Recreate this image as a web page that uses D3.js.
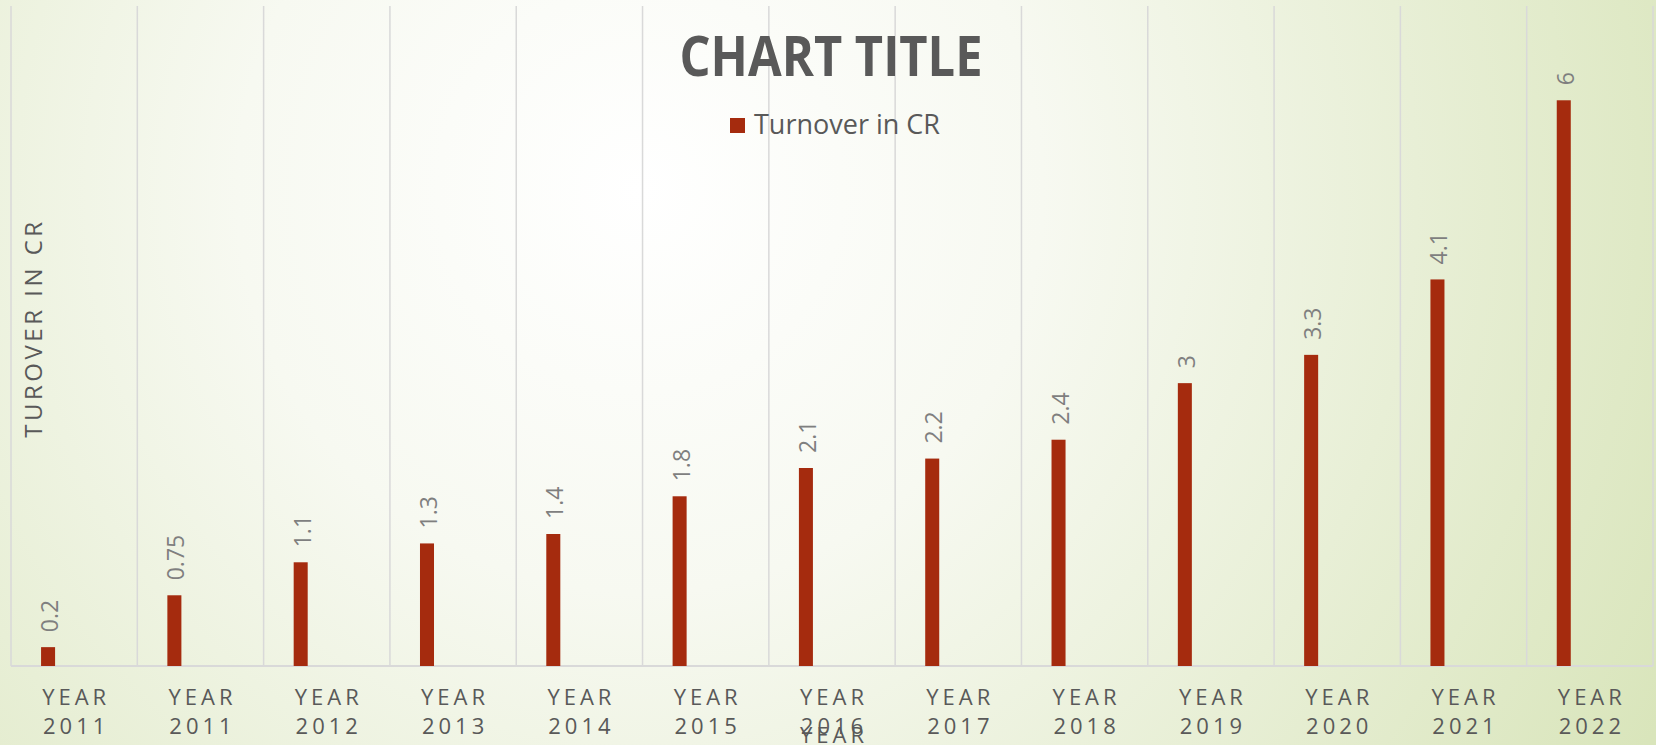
<!DOCTYPE html>
<html><head><meta charset="utf-8">
<script src="https://cdn.jsdelivr.net/npm/d3@7"></script>
<style>html,body{margin:0;padding:0;overflow:hidden;background:#fff}</style>
</head><body>
<svg id="chart" width="1656" height="745"></svg>
<script>
const categories = ["YEAR 2011","YEAR 2011","YEAR 2012","YEAR 2013","YEAR 2014","YEAR 2015","YEAR 2016","YEAR 2017","YEAR 2018","YEAR 2019","YEAR 2020","YEAR 2021","YEAR 2022"];
const turnover = [0.2, 0.75, 1.1, 1.3, 1.4, 1.8, 2.1, 2.2, 2.4, 3, 3.3, 4.1, 6];
const seriesName = "Turnover in CR";
const chartTitle = "CHART TITLE";
const xTitle = "YEAR";
const yTitle = "TUROVER IN CR";
const yMax = 7;

const W = 1656, H = 745;
const svg = d3.select("#chart");
const defs = svg.append("defs");
const grad = defs.append("radialGradient").attr("id","bg")
  .attr("gradientUnits","userSpaceOnUse").attr("cx",640).attr("cy",190).attr("r",1150);
grad.append("stop").attr("offset","0%").attr("stop-color","#ffffff");
grad.append("stop").attr("offset","35%").attr("stop-color","#f7f9f1");
grad.append("stop").attr("offset","100%").attr("stop-color","#d9e5bb");
svg.append("rect").attr("width",W).attr("height",H).attr("fill","url(#bg)");

const m = {left:11, right:3, top:6, bottom:79};
const x = d3.scaleBand().domain(d3.range(categories.length)).range([m.left, W-m.right]).padding(0);
const y = d3.scaleLinear().domain([0,yMax]).range([H-m.bottom, m.top]);
const bw = x.bandwidth();

// vertical gridlines (category boundaries)
const bounds = d3.range(categories.length+1).map(i => i<categories.length ? x(i) : x(categories.length-1)+bw);
svg.append("g").selectAll("line").data(bounds).join("line")
  .attr("x1",d=>d).attr("x2",d=>d).attr("y1",y(yMax)).attr("y2",y(0))
  .attr("stroke","#d9d9d9").attr("stroke-width",1.5);

// baseline
svg.append("line").attr("x1",x(0)).attr("x2",x(categories.length-1)+bw)
  .attr("y1",y(0)).attr("y2",y(0)).attr("stroke","#d9d9d9").attr("stroke-width",2);

const barW = bw*0.111, barOff = bw*0.238;
svg.append("g").selectAll("rect").data(turnover).join("rect")
  .attr("x",(d,i)=>x(i)+barOff).attr("width",barW)
  .attr("y",d=>y(d)).attr("height",d=>y(0)-y(d))
  .attr("fill","#a52b0e");

// data labels rotated
svg.append("g").selectAll("text").data(turnover).join("text")
  .attr("transform",(d,i)=>`translate(${x(i)+barOff+barW/2+10},${y(d)-15}) rotate(-90)`)
  .attr("text-anchor","start")
  .attr("font-family","'Open Sans', sans-serif").attr("font-size",23)
  .attr("fill","#7f7f7f").text(d=>d);

// x tick labels
const xl = svg.append("g").selectAll("text").data(categories).join("text")
  .attr("text-anchor","middle")
  .attr("font-family","'Open Sans', sans-serif").attr("font-size",22)
  .attr("letter-spacing","4px")
  .attr("fill","#595959");
xl.each(function(d,i){
  const parts = d.split(" ");
  const t = d3.select(this);
  parts.forEach((p,j)=>{
    t.append("tspan").attr("x",x(i)+bw/2+2).attr("y",y(0)+39+j*29).text(p);
  });
});

// axis titles
svg.append("text").attr("x",(x(0)+x(categories.length-1)+bw)/2+2).attr("y",y(0)+77)
  .attr("text-anchor","middle").attr("font-family","'Open Sans', sans-serif").attr("font-size",22)
  .attr("letter-spacing","4px").attr("fill","#595959").text(xTitle);
svg.append("text").attr("transform",`translate(42,${(y(0)+y(yMax))/2 - 8}) rotate(-90)`)
  .attr("text-anchor","middle").attr("font-family","'Open Sans', sans-serif").attr("font-size",24)
  .attr("letter-spacing","3.5px")
  .attr("fill","#595959").text(yTitle);

// title
svg.append("text").attr("x",831).attr("y",76).attr("text-anchor","middle")
  .attr("font-family","'Open Sans', sans-serif").attr("font-weight","bold").attr("font-size",56)
  .attr("textLength",303).attr("lengthAdjust","spacingAndGlyphs")
  .attr("fill","#595959").text(chartTitle);

// legend
svg.append("rect").attr("x",730).attr("y",118).attr("width",15).attr("height",15).attr("fill","#a52b0e");
svg.append("text").attr("x",754).attr("y",134).attr("font-family","'Open Sans', sans-serif")
  .attr("font-size",27).attr("fill","#595959").text(seriesName);
</script>
</body></html>
